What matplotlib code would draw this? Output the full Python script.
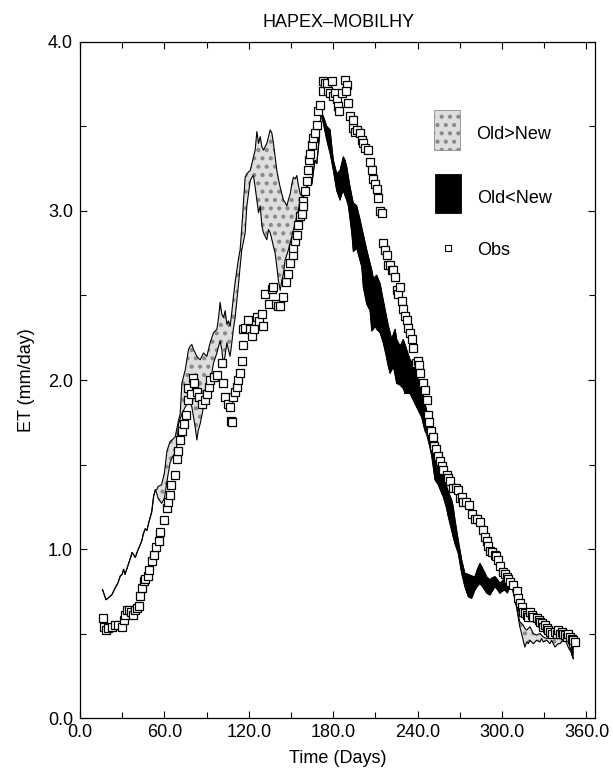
import numpy as np
import matplotlib
matplotlib.use("Agg")
import matplotlib.pyplot as plt
from matplotlib.patches import Rectangle
from matplotlib.lines import Line2D

plt.rcParams["font.family"] = ["Liberation Sans", "DejaVu Sans"]
plt.rcParams["hatch.linewidth"] = 1.8

# simulated daily ET, old and new scheme (mm/day)
days = [16, 18.5, 20, 22.7, 25, 27, 28.6, 30, 31, 32, 34, 36, 37, 39.3, 41, 42.5, 44, 45, 46.4,
        47.6, 49, 51, 52.3, 53.5, 54.5, 55.5, 58, 60, 61.8, 64, 66, 67.7, 69, 70, 71.2, 72.4,
        74.8, 77.1, 78.3, 79.5, 80.7, 81.9, 83.1, 84, 85.4, 87.8, 90.2, 91.3, 92.5, 94.9, 97.3,
        98.5, 99.6, 100.8, 102, 103.2, 104.4, 105.5, 106.7, 107.9, 109, 110.3, 111.5, 112.7,
        113.8, 115, 116.2, 117.4, 118.6, 119.7, 121, 122.2, 123.3, 124.5, 125.7, 126.9, 128.1,
        129.3, 130.4, 131.6, 132.8, 134, 135.2, 136.4, 137.5, 138.7, 139.9, 141, 142.3, 143.5,
        144.6, 145.8, 147, 148.1, 149.4, 150.6, 151.7, 153, 154.1, 155.3, 156.5, 158.8, 160,
        161.2, 163.6, 164.8, 166, 167.1, 168.3, 169.5, 170.5, 171.5, 173, 175.4, 177.8, 179,
        180.1, 181.3, 182.5, 184.9, 186, 187.2, 188.4, 189.6, 190.8, 192, 193.2, 194.3, 195.5,
        196.7, 199, 200.3, 201.4, 203.8, 206.2, 207.4, 208.5, 209.7, 210.9, 213.3, 215.6, 217.5,
        219.2, 220.4, 221.6, 222.7, 224, 225.1, 227.5, 228.7, 229.8, 231, 232.2, 234.6, 237,
        239.3, 240.5, 242.9, 244, 245.2, 246.4, 247.6, 248.8, 250, 251.2, 252.3, 254.7, 257.1,
        258.2, 260.6, 261.8, 264.2, 265.3, 266.6, 268.9, 271.3, 273.6, 276, 278.4, 280.7, 282.5,
        284.3, 286.7, 287.8, 289, 291.4, 293, 295, 296.7, 298.5, 300, 302, 303.8, 305.6, 307.5,
        309.3, 311, 312.6, 313.9, 315, 316.2, 317.5, 318.7, 319.8, 321, 322.2, 324.6, 326.9,
        328.1, 329.3, 331.7, 334, 335.2, 336.4, 337.6, 340, 341.2, 343.5, 344.7, 346, 347,
        348.2, 349.4, 350.6]

et_old = [0.76, 0.70, 0.71, 0.73, 0.77, 0.80, 0.84, 0.85, 0.88, 0.85, 0.90, 0.95, 0.98, 0.95,
          0.99, 1.02, 1.05, 1.09, 1.12, 1.11, 1.16, 1.22, 1.31, 1.35, 1.35, 1.37, 1.38, 1.45,
          1.58, 1.635, 1.65, 1.665, 1.72, 1.76, 1.80, 1.98, 2.06, 2.18, 2.20, 2.21, 2.18, 2.16,
          2.14, 2.13, 2.12, 2.16, 2.14, 2.18, 2.22, 2.28, 2.30, 2.37, 2.46, 2.39, 2.37, 2.41,
          2.33, 2.35, 2.32, 2.40, 2.49, 2.58, 2.65, 2.72, 2.77, 2.90, 3.05, 3.20, 3.22, 3.23,
          3.24, 3.28, 3.32, 3.36, 3.47, 3.40, 3.44, 3.38, 3.36, 3.38, 3.40, 3.44, 3.48, 3.46,
          3.40, 3.32, 3.24, 3.19, 3.14, 3.10, 3.065, 3.05, 3.03, 3.065, 3.10, 3.16, 3.20, 3.19,
          3.21, 3.15, 3.10, 3.08, 3.12, 3.14, 3.20, 3.16, 3.24, 3.30, 3.28, 3.38, 3.50, 3.57,
          3.52, 3.42, 3.34, 3.29, 3.24, 3.18, 3.12, 3.065, 3.10, 3.12, 3.09, 3.065, 3.03, 2.95,
          2.87, 2.76, 2.77, 2.78, 2.71, 2.67, 2.55, 2.45, 2.41, 2.29, 2.30, 2.32, 2.30, 2.28,
          2.22, 2.15, 2.08, 2.04, 2.06, 2.08, 2.03, 1.98, 1.97, 1.96, 1.95, 1.92, 1.92, 1.92,
          1.88, 1.84, 1.82, 1.78, 1.74, 1.70, 1.68, 1.64, 1.60, 1.55, 1.48, 1.41, 1.38, 1.33,
          1.31, 1.24, 1.19, 1.11, 1.07, 1.03, 0.974, 0.856, 0.777, 0.718, 0.708, 0.757, 0.78,
          0.797, 0.77, 0.757, 0.74, 0.728, 0.75, 0.777, 0.76, 0.738, 0.75, 0.757, 0.74, 0.777,
          0.76, 0.70, 0.63, 0.57, 0.56, 0.55, 0.53, 0.52, 0.53, 0.54, 0.52, 0.50, 0.49, 0.50,
          0.49, 0.48, 0.47, 0.48, 0.48, 0.48, 0.47, 0.51, 0.51, 0.52, 0.50, 0.48, 0.46, 0.42,
          0.38, 0.35]

et_new = [0.76, 0.70, 0.71, 0.73, 0.77, 0.80, 0.84, 0.85, 0.88, 0.85, 0.90, 0.95, 0.98, 0.95,
          0.99, 1.02, 1.05, 1.09, 1.12, 1.11, 1.16, 1.22, 1.31, 1.35, 1.33, 1.30, 1.27, 1.30,
          1.40, 1.51, 1.55, 1.57, 1.62, 1.74, 1.77, 1.80, 1.84, 1.87, 1.88, 1.84, 1.78, 1.72,
          1.645, 1.70, 1.74, 1.84, 1.90, 1.94, 1.98, 2.10, 2.16, 2.20, 2.23, 2.18, 2.08, 2.15,
          2.22, 2.18, 2.14, 2.22, 2.30, 2.37, 2.47, 2.57, 2.67, 2.77, 2.82, 2.87, 3.03, 3.10,
          3.18, 3.20, 3.21, 3.14, 3.065, 2.99, 3.03, 2.91, 2.87, 2.85, 2.83, 2.89, 2.87, 2.83,
          2.79, 2.75, 2.67, 2.59, 2.53, 2.59, 2.63, 2.71, 2.74, 2.77, 2.81, 2.85, 2.89, 2.93,
          2.97, 3.01, 3.065, 3.08, 3.12, 3.14, 3.20, 3.16, 3.24, 3.30, 3.28, 3.38, 3.51, 3.58,
          3.56, 3.50, 3.48, 3.38, 3.30, 3.26, 3.22, 3.24, 3.28, 3.32, 3.30, 3.26, 3.20, 3.14,
          3.09, 3.045, 3.04, 3.03, 2.95, 2.90, 2.86, 2.77, 2.69, 2.65, 2.60, 2.61, 2.62, 2.57,
          2.47, 2.39, 2.32, 2.28, 2.24, 2.27, 2.30, 2.24, 2.20, 2.22, 2.24, 2.21, 2.18, 2.12,
          2.09, 2.03, 2.00, 1.94, 1.91, 1.86, 1.82, 1.76, 1.72, 1.68, 1.61, 1.57, 1.51, 1.45,
          1.42, 1.37, 1.34, 1.29, 1.25, 1.17, 1.05, 0.935, 0.856, 0.85, 0.84, 0.836, 0.88,
          0.915, 0.876, 0.86, 0.836, 0.817, 0.83, 0.836, 0.82, 0.797, 0.81, 0.817, 0.80, 0.806,
          0.78, 0.71, 0.62, 0.54, 0.50, 0.46, 0.42, 0.45, 0.44, 0.46, 0.45, 0.44, 0.46, 0.45,
          0.47, 0.45, 0.46, 0.44, 0.46, 0.44, 0.42, 0.44, 0.44, 0.46, 0.46, 0.44, 0.42, 0.40,
          0.42, 0.42]

# observed ET
obs_days = [16, 16.8, 18.4, 20, 22.7, 25, 27, 29.8, 31, 32.2, 33.4, 35, 36.5, 38, 39, 40.3,
            41.6, 42.8, 44, 45.2, 46.5, 48, 49.4, 51, 52.8, 54.2, 55.8, 57, 60, 61.8, 62.6,
            63.8, 65, 67.7, 68.9, 70, 71.2, 72.4, 73.6, 75.5, 76.7, 77.1, 78.6, 80.3, 81.3,
            83.1, 84.5, 86.6, 88.5, 90.2, 91.8, 92.5, 95, 97.3, 100.8, 102, 103.2, 105, 106.7,
            107.2, 108, 109, 110.3, 111.5, 112.6, 113.8, 115, 115.8, 116.2, 117.5, 119.7, 121,
            122.1, 123.5, 125.7, 127.5, 129.3, 130.4, 131.6, 134, 136.4, 137.5, 139, 141, 142,
            144.6, 146.5, 148, 149.4, 151.3, 151.7, 153, 154.1, 155.3, 156.5, 157.5, 158.4,
            158.8, 160, 161.2, 162.4, 162.9, 163.6, 164.8, 165.9, 167.1, 168.3, 169.5, 170.7,
            172.6, 173, 174.2, 175.5, 176.6, 178, 179, 180.1, 181.3, 182.5, 183.7, 184.4, 186,
            188.4, 189.6, 188.8, 190.8, 192, 193.9, 194.3, 195.5, 197, 199, 200.3, 201, 202.6,
            205, 206.2, 207.4, 208.5, 209.7, 210.9, 212.1, 213.3, 214.5, 215.6, 216.8, 218,
            219.2, 220.4, 221.6, 222.7, 224, 225.1, 226.3, 227.5, 228.7, 229.8, 231, 232.2,
            233.4, 234.6, 235.8, 236.9, 238.8, 240, 241.2, 241.7, 243.6, 245.2, 246.4, 247.2,
            248.3, 249.5, 250.7, 251.8, 253, 254.7, 255.9, 257, 258.2, 260.6, 261.8, 263, 265.3,
            267, 268.9, 270.1, 271.2, 272.4, 274.5, 276.7, 278.4, 280.7, 282.5, 284.3, 286.7,
            287.8, 289, 290.1, 291.4, 293, 295, 296, 297.3, 298.5, 300.9, 302, 303.3, 304.4,
            305.6, 308, 310.4, 311.5, 312.7, 313.9, 315, 316.2, 317.5, 318.7, 319.8, 321, 322.2,
            324.6, 326, 327, 328.1, 329.3, 330.5, 331.7, 333, 334, 335.5, 337.6, 338.8, 340, 341,
            342.3, 343.5, 344.7, 346, 347, 348.2, 349.4, 350.6, 351.8]

obs_et = [0.59, 0.54, 0.52, 0.53, 0.54, 0.55, 0.55, 0.54, 0.58, 0.61, 0.64, 0.64, 0.63, 0.61,
          0.64, 0.65, 0.66, 0.72, 0.77, 0.81, 0.82, 0.84, 0.876, 0.93, 0.965, 1.01, 1.05, 1.10,
          1.17, 1.24, 1.28, 1.32, 1.38, 1.44, 1.53, 1.58, 1.645, 1.70, 1.74, 1.79, 1.88, 1.95,
          1.92, 2.01, 1.98, 1.93, 1.90, 1.86, 1.88, 1.92, 1.96, 2.00, 2.02, 2.03, 2.10, 1.98,
          1.90, 1.86, 1.84, 1.76, 1.75, 1.90, 1.93, 1.96, 2.00, 2.04, 2.11, 2.21, 2.30, 2.31,
          2.355, 2.30, 2.26, 2.30, 2.37, 2.35, 2.39, 2.32, 2.51, 2.45, 2.54, 2.55, 2.45, 2.44,
          2.44, 2.49, 2.58, 2.63, 2.69, 2.74, 2.78, 2.82, 2.86, 2.92, 2.97, 2.98, 3.06, 3.03,
          3.12, 3.18, 3.24, 3.30, 3.34, 3.39, 3.43, 3.46, 3.51, 3.59, 3.63, 3.71, 3.77, 3.755,
          3.76, 3.71, 3.70, 3.77, 3.68, 3.70, 3.66, 3.62, 3.59, 3.70, 3.775, 3.745, 3.71, 3.64,
          3.56, 3.49, 3.54, 3.47, 3.48, 3.46, 3.42, 3.40, 3.37, 3.36, 3.29, 3.24, 3.19, 3.16,
          3.13, 3.075, 3.00, 2.99, 2.81, 2.77, 2.74, 2.68, 2.68, 2.65, 2.65, 2.61, 2.53, 2.51,
          2.55, 2.47, 2.42, 2.38, 2.355, 2.31, 2.28, 2.24, 2.19, 2.10, 2.11, 2.09, 2.04, 1.98,
          1.94, 1.88, 1.79, 1.75, 1.70, 1.66, 1.61, 1.59, 1.55, 1.52, 1.49, 1.47, 1.44, 1.42,
          1.40, 1.36, 1.36, 1.35, 1.30, 1.31, 1.28, 1.28, 1.26, 1.21, 1.18, 1.18, 1.16, 1.11,
          1.07, 1.05, 1.02, 0.99, 0.98, 0.965, 0.96, 0.935, 0.90, 0.866, 0.85, 0.836, 0.82,
          0.806, 0.787, 0.75, 0.708, 0.679, 0.659, 0.629, 0.62, 0.61, 0.60, 0.629, 0.61, 0.60,
          0.59, 0.58, 0.57, 0.56, 0.54, 0.55, 0.53, 0.52, 0.51, 0.50, 0.51, 0.50, 0.52, 0.50,
          0.51, 0.50, 0.49, 0.48, 0.50, 0.48, 0.47, 0.46, 0.45]

x_ticks = [0, 60, 120, 180, 240, 300, 360]
y_ticks = [0, 1, 2, 3, 4]

stipple_face = "#dedede"
stipple_dots = "#8a8a8a"

fig = plt.figure(figsize=(6.13, 7.69), dpi=100)
ax = fig.add_axes([0.1305, 0.0663, 0.840, 0.8791])

d = np.array(days)
old = np.array(et_old)
new = np.array(et_new)

ax.fill_between(d, old, new, where=old >= new, interpolate=True,
                facecolor=stipple_face, edgecolor=stipple_dots, hatch="..", linewidth=0)
ax.fill_between(d, old, new, where=new > old, interpolate=True,
                facecolor="black", edgecolor="black", linewidth=0.6)
ax.plot(d, old, color="black", lw=0.8)
ax.plot(d, new, color="black", lw=0.8)

ax.plot(obs_days, obs_et, linestyle="none", marker="s", markersize=5.5,
        markerfacecolor="white", markeredgecolor="black", markeredgewidth=0.9)

ax.set_xlim(0, 366)
ax.set_ylim(0, 4)
ax.set_xticks(x_ticks)
ax.set_xticklabels(["%.1f" % v for v in x_ticks])
ax.set_xticks(np.arange(30, 366, 60), minor=True)
ax.set_yticks(y_ticks)
ax.set_yticklabels(["%.1f" % v for v in y_ticks])
ax.set_yticks(np.arange(0.5, 4, 1.0), minor=True)
ax.tick_params(which="both", direction="in", top=True, right=True, labelsize=13, width=0.8)
ax.tick_params(which="major", length=5)
ax.tick_params(which="minor", length=4)
ax.tick_params(axis="x", pad=4)
ax.tick_params(axis="y", pad=5)
for s in ax.spines.values():
    s.set_linewidth(0.9)

# key, drawn in axes fraction
ax.add_patch(Rectangle((0.687, 0.840), 0.051, 0.059, transform=ax.transAxes,
                       facecolor=stipple_face, edgecolor=stipple_dots, hatch="..", linewidth=0.6))
ax.add_patch(Rectangle((0.689, 0.747), 0.051, 0.058, transform=ax.transAxes,
                       facecolor="black", edgecolor="black", linewidth=0.6))
ax.add_line(Line2D([0.715], [0.695], transform=ax.transAxes, linestyle="none", marker="s",
                   markersize=4.5, markerfacecolor="white", markeredgecolor="black",
                   markeredgewidth=0.8))
ax.text(0.769, 0.863, "Old>New", transform=ax.transAxes, fontsize=13, va="center")
ax.text(0.771, 0.768, "Old<New", transform=ax.transAxes, fontsize=13, va="center")
ax.text(0.771, 0.691, "Obs", transform=ax.transAxes, fontsize=13, va="center")

fig.text(0.553, 0.971, "HAPEX\u2013MOBILHY", ha="center", va="center", fontsize=13)
fig.text(0.551, 0.014, "Time (Days)", ha="center", va="center", fontsize=13)
fig.text(0.044, 0.506, "ET (mm/day)", ha="center", va="center", rotation=90, fontsize=13)

fig.savefig("out.png", dpi=100)
